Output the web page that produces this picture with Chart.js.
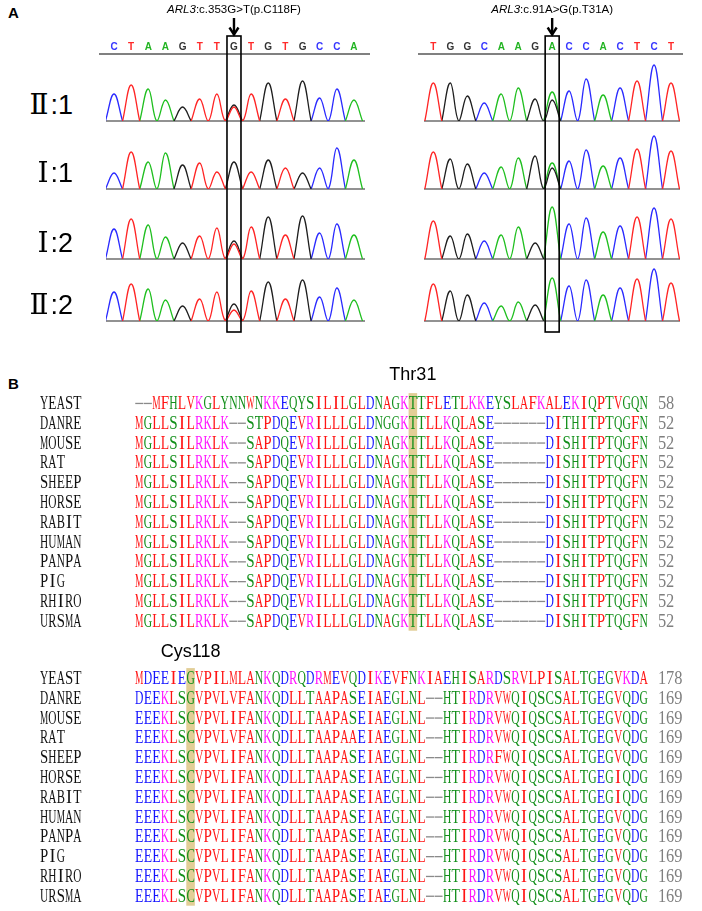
<!DOCTYPE html>
<html><head><meta charset="utf-8">
<script src="https://cdn.jsdelivr.net/npm/chart.js@4.4.1/dist/chart.umd.min.js"></script>
<style>
html,body{margin:0;padding:0;background:#fff}
body{width:702px;height:911px;position:relative;overflow:hidden;font-family:"Liberation Sans",Arial,sans-serif}
canvas{position:absolute}
.lbl{position:absolute;white-space:nowrap;line-height:1}
.panel{font-weight:bold;font-size:15px}
.samp{font-size:27px;text-align:right;width:80px}
.samp .rn{font-family:"DejaVu Serif","Liberation Serif",serif;font-size:28px;margin-right:2px}
.mut{font-size:11.5px;transform:translateX(-50%)}
</style></head><body>
<div class="lbl panel" style="left:8px;top:5px">A</div>
<div class="lbl panel" style="left:8px;top:376px">B</div>
<script>
// ---------------- DATA ----------------
const leftBases  = ['C','T','A','A','G','T','T','G','T','G','T','G','C','C','A'];
const rightBases = ['T','G','G','C','A','A','G','A','C','C','A','C','T','C','T'];
const leftMutIndex = 7;
const rightMutIndex = 7;
const leftMutGene = 'ARL3';
const leftMutText = ':c.353G>T(p.C118F)';
const rightMutGene = 'ARL3';
const rightMutText = ':c.91A>G(p.T31A)';
const sampleNumeral = ['Ⅱ','Ⅰ','Ⅰ','Ⅱ'];
const sampleIndex = ['1','1','2','2'];

// peak heights of the called base at each position
const leftII1 = [27,36,32,21,14,22,27,16,27,38,22,40,23,32,21];
const leftI1  = [16,37,27,36,24,26,17,27,17,29,21,16,21,41,29];
const leftI2  = [30,40,34,22,16,23,31,18,32,42,24,43,26,35,24];
const leftII2 = [29,37,32,21,15,22,29,17,30,39,22,41,24,33,21];
// secondary (heterozygous) peaks: [position, base, height]
const leftII1Second = [[7,'T',14]];
const leftI1Second  = [];
const leftI2Second  = [[7,'T',15]];
const leftII2Second = [[7,'T',11]];

const rightII1 = [38,38,25,18,27,33,22,29,30,42,26,33,40,56,38];
const rightI1  = [37,30,25,16,22,31,33,26,28,39,23,31,40,53,38];
const rightI2  = [38,23,25,18,24,32,16,52,35,41,27,33,42,51,40];
const rightII2 = [37,30,26,18,15,19,16,43,35,41,26,33,42,52,38];
const rightII1Second = [[7,'G',21]];
const rightI1Second  = [[7,'G',21]];
const rightI2Second  = [];
const rightII2Second = [];

const species = ['YEAST','DANRE','MOUSE','RAT','SHEEP','HORSE','RABIT','HUMAN','PANPA','PIG','RHIRO','URSMA'];
const block1 = [
 '--MFHLVKGLYNNWNKKEQYSILILGLDNAGKTTFLETLKKEYSLAFKALEKIQPTVGQN',
 'MGLLSILRKLK--STPDQEVRILLLGLDNGGKTTLLKQLASE------DITHITPTQGFN',
 'MGLLSILRKLK--SAPDQEVRILLLGLDNAGKTTLLKQLASE------DISHITPTQGFN',
 'MGLLSILRKLK--SAPDQEVRILLLGLDNAGKTTLLKQLASE------DISHITPTQGFN',
 'MGLLSILRKLK--SAPDQEVRILLLGLDNAGKTTLLKQLASE------DISHITPTQGFN',
 'MGLLSILRKLK--SAPDQEVRILLLGLDNAGKTTLLKQLASE------DISHITPTQGFN',
 'MGLLSILRKLK--SAPDQEVRILLLGLDNAGKTTLLKQLASE------DISHITPTQGFN',
 'MGLLSILRKLK--SAPDQEVRILLLGLDNAGKTTLLKQLASE------DISHITPTQGFN',
 'MGLLSILRKLK--SAPDQEVRILLLGLDNAGKTTLLKQLASE------DISHITPTQGFN',
 'MGLLSILRKLK--SAPDQEVRILLLGLDNAGKTTLLKQLASE------DISHITPTQGFN',
 'MGLLSILRKLK--SAPDQEVRILLLGLDNAGKTTLLKQLASE------DISHITPTQGFN',
 'MGLLSILRKLK--SAPDQEVRILLLGLDNAGKTTLLKQLASE------DISHITPTQGFN'
];
const block1End = [58,52,52,52,52,52,52,52,52,52,52,52];
const block2 = [
 'MDEEIEGVPILMLANKQDRQDRMEVQDIKEVFNKIAEHISARDSRVLPISALTGEGVKDA',
 'DEEKLSGVPVLVFANKQDLLTAAPASEIAEGLNL--HTIRDRVWQIQSCSALTGEGVQDG',
 'EEEKLSCVPVLIFANKQDLLTAAPASEIAEGLNL--HTIRDRVWQIQSCSALTGEGVQDG',
 'EEEKLSCVPVLVFANKQDLLTAAPAAEIAEGLNL--HTIRDRVWQIQSCSALTGEGVQDG',
 'EEEKLSCVPVLIFANKQDLLTAAPASEIAEGLNL--HTIRDRFWQIQSCSALTGEGVQDG',
 'EEEKLSCVPVLIFANKQDLLTAAPASEIAEGLNL--HTIRDRVWQIQSCSALTGEGIQDG',
 'EEEKLSCVPVLIFANKQDLLTAAPASEIAEGLNL--HTIRDRVWQIQSCSALTGEGIQDG',
 'EEEKLSCVPVLIFANKQDLLTAAPASEIAEGLNL--HTIRDRVWQIQSCSALTGEGVQDG',
 'EEEKLSCVPVLIFANKQDLLTAAPASEIAEGLNL--HTIRDRVWQIQSCSALTGEGVQDG',
 'EEEKLSCVPVLIFANKQDLLTAAPASEIAEGLNL--HTIRDRVWQIQSCSALTGEGVQDG',
 'EEEKLSCVPVLIFANKQDLLTAAPASEIAEGLNL--HTIRDRVWQIQSCSALTGEGVQDG',
 'EEEKLSCVPVLIFANKQDLLTAAPASEIAEGLNL--HTIRDRVWQIQSCSALTGEGVQDG'
];
const block2End = [178,169,169,169,169,169,169,169,169,169,169,169];
const block1HighlightCol = 32, block1HighlightLabel = 'Thr31';
const block2HighlightCol = 6,  block2HighlightLabel = 'Cys118';

// ---------------- STYLE ----------------
const traceColor = {A:'#1fbf1f', C:'#2a2aff', G:'#1e1e1e', T:'#ff2424'};
const baseLetterColor = {A:'#22b422', C:'#3535ff', G:'#333333', T:'#ff2a2a'};
const residueColor = ch => {
  if ('AVFPMILW'.includes(ch)) return '#ff1414';
  if ('DE'.includes(ch)) return '#1414ff';
  if ('RK'.includes(ch)) return '#ff14ff';
  if ('STYHCNGQ'.includes(ch)) return '#128f1a';
  return '#808080';
};
const SERIF = '"Liberation Serif","DejaVu Serif",serif';

Chart.defaults.animation = false;
Chart.defaults.responsive = false;
Chart.defaults.events = [];
Chart.defaults.plugins.legend.display = false;
Chart.defaults.plugins.tooltip.enabled = false;

function addCanvas(left, top, w, h){
  const c = document.createElement('canvas');
  c.width = w; c.height = h;
  c.style.left = left+'px'; c.style.top = top+'px';
  c.style.width = w+'px'; c.style.height = h+'px';
  document.body.appendChild(c);
  return c;
}

// ---------------- CHROMATOGRAMS ----------------
function channelPoints(bases, heights, seconds, ch){
  const h = bases.map((b,i)=> b===ch ? heights[i] : 0);
  seconds.forEach(([i,b,v])=>{ if(b===ch) h[i]=v; });
  const pts=[];
  for(let i=0;i<h.length;i++){
    if(h[i]>0){
      if(!(i>0 && h[i-1]>0)) pts.push({x:i-0.5,y:0});
      pts.push({x:i,y:h[i]});
      pts.push({x:i+0.5,y:0});
    } else pts.push({x:i,y:null});
  }
  return pts;
}
const baselinePlugin = {
  id:'baseline',
  beforeDatasetsDraw(chart){
    const {ctx, chartArea:a, scales:{y}} = chart;
    const yy = y.getPixelForValue(0);
    ctx.save(); ctx.strokeStyle='#6e6e6e'; ctx.lineWidth=1.6;
    ctx.beginPath(); ctx.moveTo(a.left,yy); ctx.lineTo(a.right,yy); ctx.stroke(); ctx.restore();
  }
};
function traceChart(side, baseline, bases, heights, seconds){
  const geo = side==='L' ? {left:100,w:272,pl:6,pr:7,min:-0.467,max:14.644}
                         : {left:418,w:270,pl:6,pr:8,min:-0.548,max:14.529};
  const c = addCanvas(geo.left, baseline-62, geo.w, 65);
  const ds = ['T','G','A','C'].map(ch=>({
    data: channelPoints(bases, heights, seconds, ch),
    borderColor: traceColor[ch], borderWidth:1.3, pointRadius:0,
    tension:0.42, fill:false, spanGaps:false
  }));
  return new Chart(c, {type:'line', data:{datasets:ds}, options:{
    layout:{padding:{left:geo.pl,right:geo.pr,top:2,bottom:3}},
    scales:{x:{type:'linear',display:false,min:geo.min,max:geo.max},
            y:{type:'linear',display:false,min:0,max:60}}
  }, plugins:[baselinePlugin]});
}
const headerPlugin = {
  id:'header',
  afterDraw(chart, args, opts){
    const {ctx, chartArea:a, scales:{x}} = chart;
    ctx.save();
    ctx.font = 'bold 10px "Liberation Sans", Arial, sans-serif';
    ctx.textAlign='center'; ctx.textBaseline='middle';
    opts.bases.forEach((b,i)=>{ ctx.fillStyle = baseLetterColor[b]; ctx.fillText(b, x.getPixelForValue(i), 12); });
    ctx.strokeStyle='#808080'; ctx.lineWidth=2;
    ctx.beginPath(); ctx.moveTo(a.left,a.bottom); ctx.lineTo(a.right,a.bottom); ctx.stroke();
    ctx.restore();
  }
};
function headerChart(side, bases){
  const geo = side==='L' ? {left:99,w:271,min:-0.875,max:14.936} : {left:418,w:265,min:-0.901,max:14.70};
  const c = addCanvas(geo.left, 35, geo.w, 22);
  return new Chart(c, {type:'scatter', data:{datasets:[{data:[]}]}, options:{
    layout:{padding:{left:0,right:0,top:17,bottom:3}},
    scales:{x:{type:'linear',display:false,min:geo.min,max:geo.max}, y:{display:false,min:0,max:1}},
    plugins:{header:{bases}}
  }, plugins:[headerPlugin]});
}

const baselines = [121, 189, 259, 321];
headerChart('L', leftBases);
headerChart('R', rightBases);
const leftData  = [[leftII1,leftII1Second],[leftI1,leftI1Second],[leftI2,leftI2Second],[leftII2,leftII2Second]];
const rightData = [[rightII1,rightII1Second],[rightI1,rightI1Second],[rightI2,rightI2Second],[rightII2,rightII2Second]];
const leftCharts  = leftData.map((d,r)=>traceChart('L', baselines[r], leftBases, d[0], d[1]));
const rightCharts = rightData.map((d,r)=>traceChart('R', baselines[r], rightBases, d[0], d[1]));

baselines.forEach((b,r)=>{
  const d = document.createElement('div');
  d.className='lbl samp';
  d.style.left='-7px'; d.style.top=(b-30)+'px';
  d.innerHTML = '<span class="rn">'+sampleNumeral[r]+'</span>:'+sampleIndex[r];
  document.body.appendChild(d);
});

// boxes, arrows and mutation labels placed from the trace x scales
const ov = addCanvas(0,0,702,911);
const octx = ov.getContext('2d');
function markMutation(chart, idx, gene, text){
  const cx = parseFloat(chart.canvas.style.left) + chart.scales.x.getPixelForValue(idx);
  const half = 7;
  octx.save();
  octx.strokeStyle='#000'; octx.lineWidth=1.6;
  octx.strokeRect(cx-half, 36, 2*half, 296);
  octx.lineWidth=2.4;
  octx.beginPath(); octx.moveTo(cx,18); octx.lineTo(cx,34.5); octx.stroke();
  octx.beginPath(); octx.moveTo(cx-4.5,27.5); octx.lineTo(cx,34.5); octx.lineTo(cx+4.5,27.5); octx.stroke();
  octx.restore();
  const l = document.createElement('div');
  l.className='lbl mut';
  l.style.left = cx+'px'; l.style.top='4px';
  l.innerHTML = '<i>'+gene+'</i>'+text.replace(/>/g,'&gt;');
  document.body.appendChild(l);
}
markMutation(leftCharts[0], leftMutIndex, leftMutGene, leftMutText);
markMutation(rightCharts[0], rightMutIndex, rightMutGene, rightMutText);

// ---------------- ALIGNMENT ----------------
function drawGlyph(ctx, ch, cx, baseY, maxW){
  const w = ctx.measureText(ch).width;
  const sx = Math.min(1, maxW / w);
  ctx.save(); ctx.translate(cx, baseY); ctx.scale(sx,1); ctx.fillText(ch,0,0); ctx.restore();
}
const alignPlugin = {
  id:'align',
  beforeDatasetsDraw(chart, args, o){
    const {ctx, chartArea:a, scales:{x}} = chart;
    ctx.save();
    ctx.fillStyle='rgb(226,206,150)';
    const x0 = x.getPixelForValue(o.hlCol-0.5), x1 = x.getPixelForValue(o.hlCol+0.5);
    ctx.fillRect(x0, a.top, x1-x0, a.bottom-a.top);
    ctx.fillStyle='#000'; ctx.font='18px "Liberation Sans", Arial, sans-serif';
    ctx.textAlign='center'; ctx.textBaseline='middle';
    ctx.fillText(o.hlLabel, x.getPixelForValue(o.hlCol), o.labelY);
    ctx.restore();
  },
  afterDatasetsDraw(chart, args, o){
    const {ctx, scales:{x,y}} = chart;
    const cw = x.getPixelForValue(1) - x.getPixelForValue(0);
    ctx.save();
    ctx.font = '18px '+SERIF;
    ctx.textAlign='center'; ctx.textBaseline='alphabetic';
    const pts = chart.getDatasetMeta(0).data;
    const raw = chart.data.datasets[0].data;
    pts.forEach((p,k)=>{
      const ch = raw[k].c;
      if (ch==='-'){
        ctx.fillStyle='#8a8a8a';
        ctx.fillRect(p.x-cw*0.47, p.y-0.2, cw*0.94, 1.3);
      } else {
        ctx.fillStyle = residueColor(ch);
        drawGlyph(ctx, ch, p.x, p.y+6, cw*0.98);
      }
    });
    o.names.forEach((n,r)=>{
      const yy = y.getPixelForValue(r)+6;
      ctx.fillStyle='#111';
      [...n].forEach((ch,i)=>drawGlyph(ctx, ch, 40+4.15+8.3*i, yy, 8.2));
      ctx.fillStyle='#7f7f7f';
      [...String(o.ends[r])].forEach((ch,i)=>drawGlyph(ctx, ch, 658+4+8.2*i, yy, 8.2));
    });
    ctx.restore();
  }
};
function alignChart(top, height, padTop, padBottom, rows, ends, hlCol, hlLabel, labelY){
  const c = addCanvas(0, top, 702, height);
  const cells=[];
  rows.forEach((s,r)=>[...s].forEach((ch,i)=>cells.push({x:i,y:r,c:ch})));
  return new Chart(c, {type:'scatter',
    data:{datasets:[{data:cells, pointRadius:0, pointHoverRadius:0}]},
    options:{
      layout:{padding:{left:135,right:54,top:padTop,bottom:padBottom}},
      scales:{x:{type:'linear',display:false,min:-0.5,max:59.5},
              y:{type:'linear',display:false,reverse:true,min:-0.5,max:11.5}},
      plugins:{align:{names:species, ends, hlCol, hlLabel, labelY}}
    }, plugins:[alignPlugin]});
}
alignChart(340, 300, 53.1, 9.3, block1, block1End, block1HighlightCol, block1HighlightLabel, 35);
alignChart(640, 271, 28.1, 5.3, block2, block2End, block2HighlightCol, block2HighlightLabel, 12);
</script>
</body></html>
